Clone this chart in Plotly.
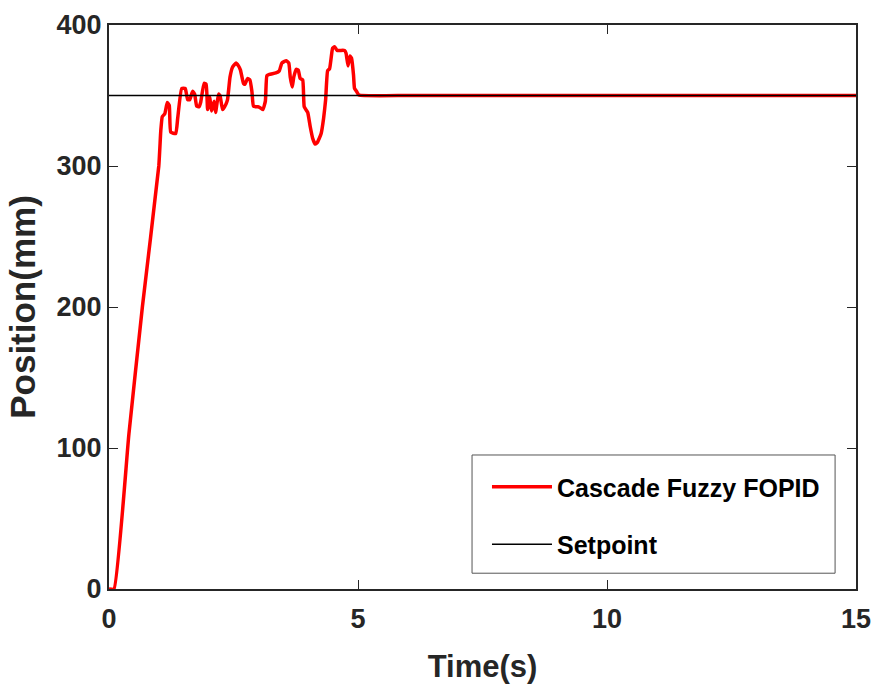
import plotly.graph_objects as go

# Cascade Fuzzy FOPID position response (s, mm)
time_s = [0.0, 0.10, 0.40, 0.67, 1.00, 1.04, 1.07, 1.12, 1.17, 1.21, 1.24, 1.34, 1.38,
          1.46, 1.53, 1.58, 1.62, 1.68, 1.72, 1.76, 1.81, 1.84, 1.91, 1.95, 1.98,
          2.02, 2.06, 2.11, 2.14, 2.20, 2.23, 2.28, 2.35, 2.38, 2.43, 2.48, 2.55,
          2.60, 2.64, 2.70, 2.73, 2.78, 2.83, 2.87, 2.90, 2.95, 2.99, 3.05, 3.09,
          3.14, 3.17, 3.22, 3.35, 3.42, 3.47, 3.56, 3.61, 3.64, 3.68, 3.71, 3.76,
          3.80, 3.84, 3.89, 3.92, 3.99, 4.04, 4.09, 4.14, 4.18, 4.26, 4.31, 4.35,
          4.39, 4.43, 4.49, 4.53, 4.58, 4.73, 4.76, 4.80, 4.84, 4.87, 4.91, 4.93,
          4.97, 5.02, 6.0, 8.0, 10.0, 12.0, 15.0]
position_mm = [0, 0, 110, 200, 300, 325, 335, 337, 345, 343, 324, 323, 334,
               355, 355, 347, 347, 353, 351, 342.5, 342, 345, 358.6, 358, 340,
               349, 339, 346, 338, 351, 350, 340, 344, 347, 363, 370, 373,
               371, 368, 358.6, 358, 362, 361, 352.7, 342.5, 342, 342, 341, 340,
               346, 364, 365, 366, 367.5, 373, 374.7, 373, 363, 356, 363, 368.6,
               368, 362, 361, 342, 338, 328, 319.6, 315.6, 316.5, 323, 334, 347,
               367.6, 369, 383.5, 384.6, 382, 382, 380, 371, 378, 376.5, 364.5, 355,
               353, 350.3, 350, 350, 350, 350, 350]

setpoint_t = [0, 15]
setpoint_mm = [350, 350]

x_ticks = [0, 5, 10, 15]
y_ticks = [0, 100, 200, 300, 400]

FONT = "Liberation Sans, Arial, sans-serif"

fig = go.Figure()
fig.add_trace(go.Scatter(
    x=time_s, y=position_mm, mode="lines", name="<b>Cascade Fuzzy FOPID</b>",
    line=dict(color="#ff0000", width=3.5, shape="spline", smoothing=0.4),
    legendgroup="a",
))
fig.add_trace(go.Scatter(
    x=setpoint_t, y=setpoint_mm, mode="lines", name="<b>Setpoint</b>",
    line=dict(color="#000000", width=1.5), legendgroup="b",
))

axis_common = dict(
    showline=True, linecolor="#262626", linewidth=2, mirror="ticks",
    ticks="inside", ticklen=9, tickwidth=1, tickcolor="#262626",
    showgrid=False, zeroline=False, automargin=False,
    tickfont=dict(family=FONT, size=27, color="#262626"),
)

fig.update_layout(
    width=876, height=689,
    margin=dict(l=109, r=20, t=25, b=100),
    paper_bgcolor="white", plot_bgcolor="white",
    font=dict(family=FONT, color="#262626"),
    xaxis=dict(
        range=[0, 15], tickvals=x_ticks,
        ticktext=[f"<b>{v}</b>" for v in x_ticks],
        ticklabelstandoff=5,
        title=dict(text="<b>Time(s)</b>", font=dict(family=FONT, size=31), standoff=22),
        **axis_common,
    ),
    yaxis=dict(
        range=[0, 400], tickvals=y_ticks,
        ticktext=[f"<b>{v}</b>" for v in y_ticks],
        title=dict(text="<b>Position(mm)</b>", font=dict(family=FONT, size=35), standoff=10),
        **axis_common,
    ),
    legend=dict(
        x=0.506, y=0.2216, xanchor="left", yanchor="top",
        bgcolor="rgba(0,0,0,0)", borderwidth=0,
        font=dict(family=FONT, size=25, color="#000000"),
        tracegroupgap=22, itemwidth=60,
    ),
    shapes=[dict(
        type="rect", xref="paper", yref="paper",
        x0=0.486, x1=0.972, y0=0.028, y1=0.2376,
        line=dict(color="#555555", width=1), fillcolor="white", layer="below",
    )],
)

fig.write_html("out.html")
